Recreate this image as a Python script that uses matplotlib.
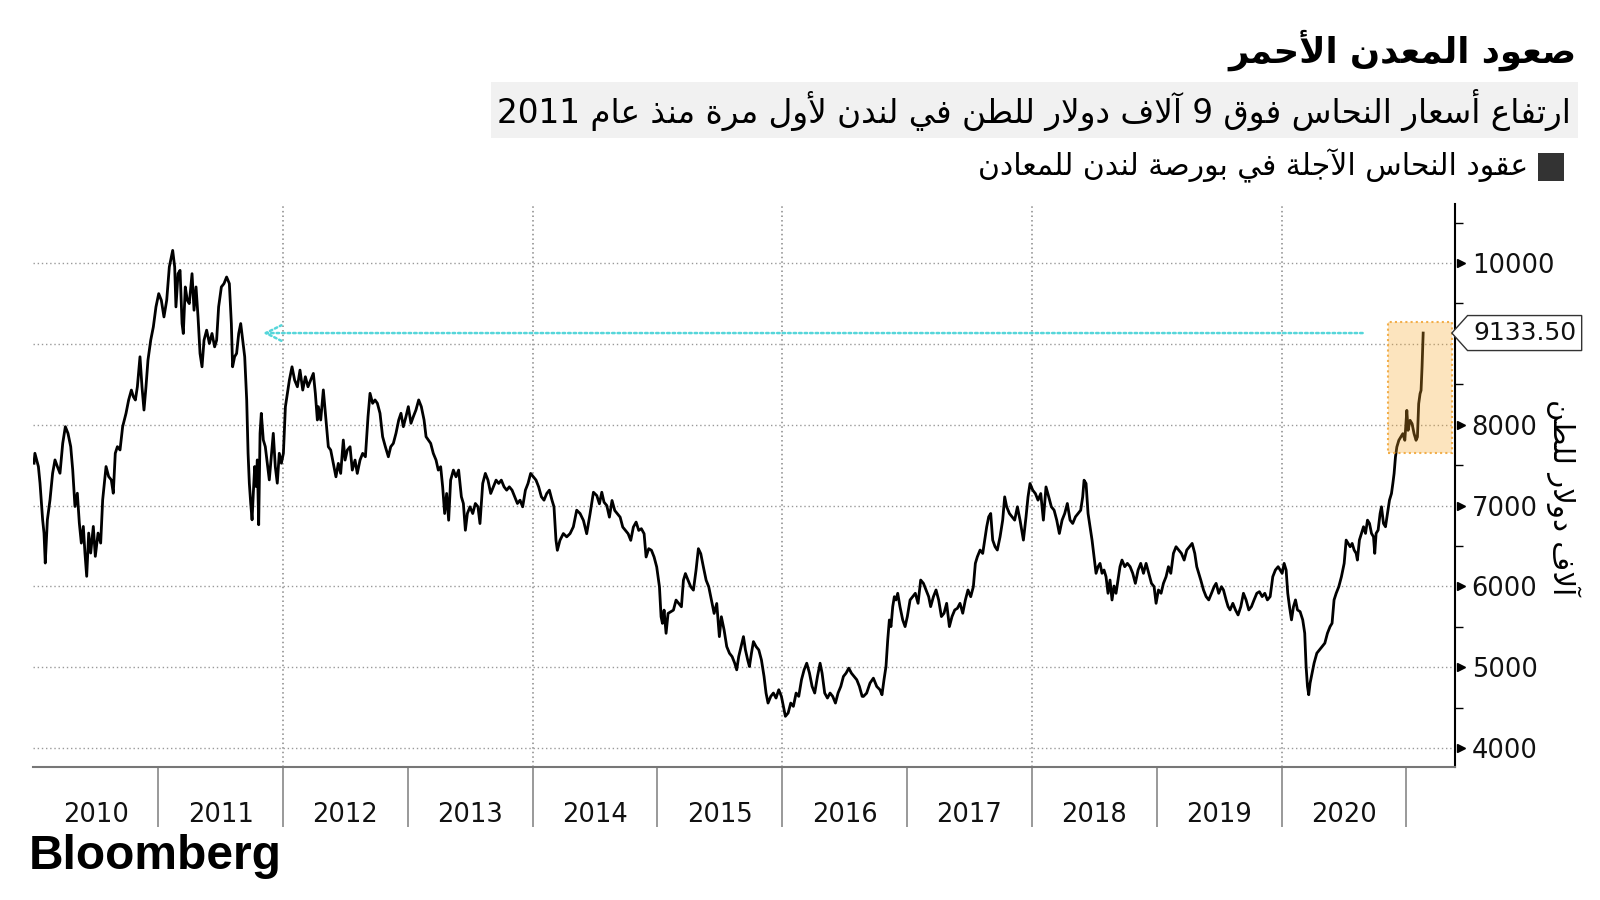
import re
import numpy as np
import matplotlib
matplotlib.use("Agg")
import matplotlib.pyplot as plt
from matplotlib.path import Path
from matplotlib.patches import Rectangle

# LME copper futures (x = years since 1 Jan 2010, y = USD/t)
years_since_2010 = [
    0.005, 0.012, 0.040, 0.053, 0.074, 0.085, 0.095, 0.112, 0.133, 0.154, 0.173, 0.192, 0.213, 0.235,
    0.256, 0.277, 0.299, 0.315, 0.333, 0.352, 0.368, 0.384, 0.400, 0.413, 0.427, 0.443, 0.459, 0.480,
    0.496, 0.518, 0.539, 0.555, 0.582, 0.603, 0.624, 0.640, 0.656, 0.673, 0.694, 0.715, 0.742, 0.763,
    0.785, 0.801, 0.817, 0.833, 0.854, 0.870, 0.886, 0.902, 0.918, 0.940, 0.961, 0.982, 1.004, 1.025,
    1.046, 1.068, 1.089, 1.105, 1.116, 1.132, 1.142, 1.159, 1.175, 1.191, 1.201, 1.217, 1.233, 1.249,
    1.271, 1.287, 1.303, 1.319, 1.335, 1.351, 1.367, 1.388, 1.410, 1.431, 1.452, 1.468, 1.484, 1.506,
    1.527, 1.548, 1.570, 1.586, 1.596, 1.612, 1.628, 1.645, 1.661, 1.677, 1.693, 1.709, 1.720, 1.730,
    1.741, 1.752, 1.762, 1.773, 1.784, 1.794, 1.805, 1.816, 1.826, 1.842, 1.858, 1.874, 1.890, 1.906,
    1.922, 1.938, 1.954, 1.970, 1.987, 2.003, 2.019, 2.035, 2.051, 2.072, 2.093, 2.115, 2.136, 2.158,
    2.179, 2.200, 2.222, 2.243, 2.259, 2.275,
    2.283, 2.302, 2.323, 2.344, 2.363, 2.382, 2.403, 2.424, 2.443, 2.462, 2.483, 2.497, 2.515, 2.537,
    2.555, 2.577, 2.595, 2.617, 2.638, 2.660, 2.681, 2.697, 2.718, 2.737, 2.756, 2.777, 2.798, 2.820,
    2.844, 2.863, 2.884, 2.905, 2.927, 2.945, 2.964, 2.985, 3.004, 3.025, 3.044, 3.065, 3.087, 3.108,
    3.130, 3.146, 3.164, 3.183, 3.204, 3.226, 3.244, 3.263, 3.279, 3.295, 3.311, 3.327, 3.343, 3.365,
    3.386, 3.407, 3.429, 3.445, 3.461, 3.477, 3.498, 3.520, 3.541, 3.562, 3.578, 3.600, 3.621, 3.642,
    3.664, 3.685, 3.707, 3.728, 3.749, 3.771, 3.792, 3.813, 3.835, 3.856, 3.878, 3.899, 3.920, 3.942,
    3.963, 3.984, 4.006, 4.027, 4.048, 4.070, 4.091, 4.113, 4.134, 4.155, 4.171, 4.187, 4.198, 4.219,
    4.246, 4.273, 4.300, 4.326, 4.353, 4.380,
    4.407, 4.433, 4.460, 4.487, 4.514, 4.535, 4.554, 4.572, 4.594, 4.615, 4.636, 4.658, 4.679, 4.701,
    4.722, 4.743, 4.765, 4.786, 4.807, 4.829, 4.850, 4.871, 4.893, 4.909, 4.930, 4.952, 4.973, 4.994,
    5.016, 5.029, 5.040, 5.053, 5.069, 5.085, 5.107, 5.128, 5.149, 5.171, 5.192, 5.208, 5.224, 5.245,
    5.267, 5.288, 5.309, 5.328, 5.347, 5.368, 5.390, 5.411, 5.432, 5.454, 5.475, 5.496, 5.512, 5.534,
    5.555, 5.577, 5.598, 5.619, 5.635, 5.651, 5.670, 5.689, 5.705, 5.723, 5.737, 5.753, 5.769, 5.790,
    5.812, 5.833, 5.854, 5.870, 5.886, 5.908, 5.929, 5.950, 5.972, 5.993, 6.009, 6.025, 6.047, 6.068,
    6.089, 6.111, 6.132, 6.154, 6.175, 6.196, 6.218, 6.239, 6.260, 6.282, 6.303, 6.319, 6.340, 6.362,
    6.383, 6.404, 6.426, 6.447, 6.469, 6.490, 6.511, 6.533, 6.554, 6.576, 6.597, 6.618, 6.640,
    6.650, 6.676, 6.703, 6.730, 6.757, 6.783, 6.799, 6.815, 6.831, 6.845, 6.858, 6.871, 6.885, 6.898,
    6.911, 6.925, 6.943, 6.965, 6.984, 7.002, 7.024, 7.045, 7.066, 7.088, 7.109, 7.131, 7.152, 7.173,
    7.189, 7.211, 7.232, 7.253, 7.275, 7.296, 7.317, 7.339, 7.360, 7.382, 7.403, 7.424, 7.446, 7.467,
    7.488, 7.510, 7.531, 7.547, 7.563, 7.585, 7.606, 7.622, 7.638, 7.654, 7.670, 7.686, 7.705, 7.723,
    7.745, 7.766, 7.782, 7.798, 7.820, 7.841, 7.862, 7.884, 7.905, 7.932, 7.953, 7.969, 7.985, 8.007,
    8.028, 8.049, 8.071, 8.092, 8.113, 8.135, 8.156, 8.178, 8.199, 8.220, 8.242, 8.263, 8.284, 8.306,
    8.327, 8.349, 8.370, 8.391, 8.407, 8.418, 8.434, 8.450, 8.466, 8.482, 8.498, 8.514, 8.530, 8.546,
    8.562, 8.578, 8.594, 8.610, 8.626, 8.642, 8.658, 8.674, 8.690, 8.706, 8.722, 8.744, 8.765, 8.787,
    8.808, 8.829, 8.851, 8.872,
    8.894, 8.915, 8.936, 8.958, 8.979, 8.995, 9.014, 9.035, 9.054, 9.075, 9.094, 9.113, 9.134, 9.155,
    9.177, 9.198, 9.220, 9.241, 9.262, 9.284, 9.305, 9.321, 9.337, 9.353, 9.375, 9.396, 9.417, 9.439,
    9.460, 9.476, 9.497, 9.519, 9.535, 9.556, 9.572, 9.588, 9.610, 9.631, 9.652, 9.674, 9.695, 9.716,
    9.738, 9.759, 9.780, 9.802, 9.823, 9.845, 9.866, 9.887, 9.909, 9.930, 9.951, 9.973, 9.989, 10.005,
    10.021, 10.037, 10.050, 10.064, 10.080, 10.096, 10.112, 10.128, 10.149, 10.170, 10.186, 10.197,
    10.208, 10.218, 10.229, 10.245, 10.261, 10.283, 10.304, 10.325, 10.347, 10.368, 10.389, 10.405,
    10.421, 10.438, 10.459, 10.480, 10.502, 10.518, 10.534, 10.550, 10.566, 10.582, 10.598, 10.608,
    10.624, 10.641, 10.657, 10.673, 10.689, 10.705, 10.721, 10.737, 10.747, 10.758, 10.774, 10.790,
    10.801, 10.817, 10.833, 10.849, 10.865, 10.881, 10.892, 10.902, 10.913, 10.924, 10.940, 10.956,
    10.972, 10.988, 11.004, 11.014, 11.030, 11.046, 11.062, 11.078, 11.089, 11.099, 11.110, 11.118,
    11.126, 11.135,
]
price_usd = [
    7523, 7646, 7482, 7276, 6823, 6659, 6288, 6823, 7070, 7399, 7564, 7482, 7399, 7770,
    7975, 7893, 7728, 7440, 6988, 7152, 6782, 6535, 6741, 6412, 6124, 6659, 6412, 6741,
    6371, 6659, 6535, 7070, 7482, 7358, 7317, 7152, 7646, 7728, 7687, 7975, 8140, 8305,
    8428, 8346, 8305, 8469, 8840, 8469, 8181, 8469, 8799, 9045, 9210, 9457, 9621, 9539,
    9333, 9539, 9951, 10074, 10156, 9951, 9457, 9868, 9909, 9251, 9128, 9704, 9539, 9498,
    9868, 9416, 9704, 9333, 8881, 8716, 9045, 9169, 9004, 9128, 8963, 9045, 9457, 9704,
    9745, 9827, 9745, 9251, 8716, 8840, 8881, 9128, 9251, 9045, 8840, 8305, 7646, 7276,
    7029, 6823, 7152, 7482, 7235, 7564, 6762, 7893, 8140, 7811, 7728, 7523, 7317, 7605,
    7893, 7482, 7276, 7646, 7523, 7646, 8222, 8387, 8552, 8716, 8552, 8469, 8675, 8428,
    8593, 8469, 8552, 8634, 8387, 8058,
    8223, 8058, 8430, 8058, 7727, 7686, 7521, 7355, 7521, 7397, 7810, 7562, 7686, 7727,
    7438, 7562, 7397, 7562, 7645, 7603, 8099, 8388, 8264, 8306, 8264, 8141, 7851, 7727,
    7603, 7727, 7769, 7893, 8058, 8141, 7975, 8099, 8223, 8017, 8099, 8182, 8306, 8223,
    8058, 7851, 7810, 7769, 7645, 7562, 7438, 7480, 7231, 6901, 7149, 6818, 7314, 7438,
    7355, 7438, 7108, 7025, 6694, 6901, 6984, 6901, 7025, 6984, 6777, 7273, 7397, 7314,
    7149, 7231, 7314, 7273, 7314, 7231, 7190, 7231, 7190, 7108, 7025, 7066, 6984, 7190,
    7273, 7397, 7355, 7314, 7231, 7108, 7066, 7149, 7190, 7066, 6984, 6570, 6446, 6570,
    6653, 6612, 6653, 6736, 6942, 6901,
    6815, 6651, 6897, 7164, 7123, 7021, 7164, 7041, 7000, 6856, 7062, 6938, 6897, 6856,
    6733, 6692, 6651, 6569, 6733, 6795, 6692, 6713, 6651, 6363, 6466, 6446, 6363, 6240,
    5994, 5624, 5542, 5706, 5419, 5665, 5686, 5706, 5830, 5788, 5747, 6076, 6158, 6076,
    5994, 5953, 6199, 6466, 6404, 6240, 6076, 5994, 5830, 5665, 5788, 5378, 5624, 5460,
    5255, 5172, 5131, 5049, 4967, 5131, 5255, 5378, 5213, 5090, 5008, 5172, 5316, 5255,
    5213, 5090, 4885, 4680, 4556, 4639, 4680, 4618, 4721, 4639, 4515, 4392, 4433, 4556,
    4515, 4680, 4639, 4844, 4967, 5049, 4926, 4762, 4680, 4885, 5049, 4926, 4680, 4618,
    4680, 4639, 4556, 4680, 4762, 4885, 4926, 4988, 4926, 4885, 4844, 4762, 4639,
    4638, 4679, 4803, 4864, 4761, 4720, 4659, 4844, 5008, 5338, 5584, 5502, 5749, 5872,
    5831, 5914, 5749, 5584, 5502, 5626, 5831, 5872, 5914, 5790, 6078, 6037, 5955, 5872,
    5749, 5872, 5955, 5831, 5626, 5667, 5790, 5502, 5626, 5708, 5728, 5790, 5667, 5831,
    5955, 5872, 5996, 6284, 6366, 6449, 6407, 6572, 6737, 6860, 6901, 6572, 6490, 6449,
    6613, 6819, 7107, 6984, 6901, 6860, 6819, 6984, 6819, 6572, 6860, 7107, 7272, 7189,
    7148, 7066, 7148, 6819, 7230, 7107, 6984, 6942, 6819, 6654, 6819, 6901, 7025, 6819,
    6778, 6860, 6901, 6942, 7107, 7313, 7272, 6901, 6737, 6572, 6366, 6161, 6243, 6284,
    6161, 6202, 6119, 5914, 6078, 5831, 6004, 5914, 6078, 6243, 6325, 6243, 6284, 6243,
    6161, 6037, 6202, 6284,
    6161, 6284, 6161, 6037, 5996, 5790, 5955, 5914, 6037, 6119, 6243, 6161, 6408, 6490,
    6449, 6408, 6325, 6449, 6490, 6531, 6408, 6243, 6161, 6078, 5955, 5873, 5832, 5914,
    5996, 6037, 5914, 5996, 5955, 5832, 5749, 5708, 5790, 5708, 5646, 5749, 5914, 5832,
    5708, 5749, 5832, 5914, 5934, 5873, 5914, 5832, 5873, 6119, 6202, 6243, 6202, 6161,
    6284, 6202, 5914, 5749, 5585, 5749, 5832, 5708, 5687, 5585, 5420, 5008,
    4762, 4659, 4803, 4926, 5050, 5173, 5214, 5255, 5297, 5420, 5502, 5543,
    5832, 5914, 5996, 6119, 6284, 6572, 6531, 6490, 6531, 6449, 6408, 6325,
    6572, 6655, 6737, 6655, 6819, 6778, 6655, 6613, 6408, 6655, 6696, 6901,
    6984, 6778, 6737, 6901, 7066, 7148, 7272, 7395, 7601, 7724, 7807, 7848,
    7889, 7807, 8177, 7930, 8054, 8012, 7889, 7807, 7848, 8259, 8383, 8424,
    8712, 9133.5,
]

year_labels = ["2010", "2011", "2012", "2013", "2014", "2015", "2016", "2017", "2018", "2019", "2020"]
y_ticks = [4000, 5000, 6000, 7000, 8000, 10000]   # 9000 sits under the last-value tag
last_price = 9133.5
previous_level_year = 2011.84   # where the 2011 price was last at this level
highlight_years = (2020.854, 2021.367)
highlight_prices = (7647, 9269)

title = "صعود المعدن الأحمر"
subtitle = "ارتفاع أسعار النحاس فوق 9 آلاف دولار للطن في لندن لأول مرة منذ عام 2011"
legend_label = "عقود النحاس الآجلة في بورصة لندن للمعادن"
y_label = "آلاف دولار للطن"


# --- tiny Arabic shaper (matplotlib has no complex text layout) ---
DUAL = {0x626: 0xFE89, 0x628: 0xFE8F, 0x62A: 0xFE95, 0x62B: 0xFE99, 0x62C: 0xFE9D, 0x62D: 0xFEA1,
        0x62E: 0xFEA5, 0x633: 0xFEB1, 0x634: 0xFEB5, 0x635: 0xFEB9, 0x636: 0xFEBD, 0x637: 0xFEC1,
        0x638: 0xFEC5, 0x639: 0xFEC9, 0x63A: 0xFECD, 0x641: 0xFED1, 0x642: 0xFED5, 0x643: 0xFED9,
        0x644: 0xFEDD, 0x645: 0xFEE1, 0x646: 0xFEE5, 0x647: 0xFEE9, 0x64A: 0xFEF1}
RIGHT = {0x622: 0xFE81, 0x623: 0xFE83, 0x624: 0xFE85, 0x625: 0xFE87, 0x627: 0xFE8D, 0x629: 0xFE93,
         0x62F: 0xFEA9, 0x630: 0xFEAB, 0x631: 0xFEAD, 0x632: 0xFEAF, 0x648: 0xFEED, 0x649: 0xFEEF}
LAM_ALEF = {0x622: 0xFEF5, 0x623: 0xFEF7, 0x625: 0xFEF9, 0x627: 0xFEFB}


def shape_arabic(text):
    items = []
    i = 0
    while i < len(text):
        c = ord(text[i])
        if c == 0x644 and i + 1 < len(text) and ord(text[i + 1]) in LAM_ALEF:
            items.append(("la", ord(text[i + 1])))
            i += 2
        else:
            items.append(("c", c))
            i += 1

    def links_next(it):
        return it[0] == "c" and it[1] in DUAL

    def links_prev(it):
        return it[0] == "la" or it[1] in DUAL or it[1] in RIGHT

    out = []
    for k, it in enumerate(items):
        jp = k > 0 and links_next(items[k - 1]) and links_prev(it)
        jn = k + 1 < len(items) and links_next(it) and links_prev(items[k + 1])
        kind, c = it
        if kind == "la":
            out.append(chr(LAM_ALEF[c] + (1 if jp else 0)))
        elif c in DUAL:
            out.append(chr(DUAL[c] + (3 if jp and jn else 2 if jn else 1 if jp else 0)))
        elif c in RIGHT:
            out.append(chr(RIGHT[c] + (1 if jp else 0)))
        elif c == 0x621:
            out.append("\ufe80")
        else:
            out.append(chr(c))
    return "".join(out)


def ar(text):
    visual = shape_arabic(text)[::-1]
    return re.sub(r"[0-9.]+", lambda m: m.group(0)[::-1], visual)


def tag_box(x0, y0, width, height, mutation_size):
    pad = 0.22 * mutation_size
    x0, y0 = x0 - pad, y0 - pad
    width, height = width + 2 * pad, height + 2 * pad
    tip = 0.45 * height
    verts = [(x0 - tip, y0 + height / 2), (x0, y0 + height), (x0 + width, y0 + height),
             (x0 + width, y0), (x0, y0), (x0 - tip, y0 + height / 2)]
    return Path(verts, closed=True)


plt.rcParams["font.family"] = ["DejaVu Sans"]

W, H = 1600, 900
fig = plt.figure(figsize=(16, 9), dpi=100)


def fxy(x, y):
    return x / W, 1 - y / H


ax = fig.add_axes([33.4 / W, 133 / H, (1455 - 33.4) / W, (767 - 204) / H])

t = 2010 + np.array(years_since_2010)
ax.plot(t, price_usd, color="black", lw=2.0, zorder=2)

ax.set_xlim(2010.0, 2021.39)
ax.set_ylim(3765, 10730)

for s in ["left", "top"]:
    ax.spines[s].set_visible(False)
ax.spines["right"].set_color("black")
ax.spines["right"].set_linewidth(1.5)
ax.spines["bottom"].set_color("#777777")
ax.spines["bottom"].set_linewidth(1.5)

# x axis: year boundaries as long ticks, labels centred in each year
ax.set_xticks(np.arange(2011, 2022))
ax.set_xticklabels([])
ax.set_xticks(np.arange(2010.5, 2021), minor=True)
ax.set_xticklabels(year_labels, minor=True)
ax.tick_params(axis="x", which="major", length=43, width=1.2, color="#888888", direction="out")
ax.tick_params(axis="x", which="minor", length=0, pad=25, labelsize=18.5, labelcolor="#111111")
for yr in [2012, 2014, 2016, 2018, 2020]:
    ax.axvline(yr, color="#888888", lw=1.1, ls=(0, (1, 2)), zorder=1)

# y axis on the right
ax.yaxis.tick_right()
ax.set_yticks(y_ticks)
ax.set_yticks(np.arange(4500, 10600, 1000), minor=True)
ax.tick_params(axis="y", which="major", length=0, pad=12, labelsize=18.5, labelcolor="#111111")
ax.tick_params(axis="y", which="minor", length=6, width=1, color="black", direction="out")
ax.grid(axis="y", which="major", color="#999999", lw=1, ls=(0, (1, 2)))
ax.axhline(9000, color="#999999", lw=1, ls=(0, (1, 2)), zorder=1)
ax.plot([1.004] * len(y_ticks), y_ticks, transform=ax.get_yaxis_transform(), ls="none",
        marker=">", ms=6, color="black", clip_on=False)

# highlight of the latest surge
ax.add_patch(Rectangle((highlight_years[0], highlight_prices[0]),
                       highlight_years[1] - highlight_years[0],
                       highlight_prices[1] - highlight_prices[0],
                       facecolor=(0.97, 0.66, 0.16, 0.30), edgecolor="#f2ae4a",
                       lw=1.5, ls=(0, (1, 1.5)), zorder=3))

# dotted arrow back to 2011 level
ax.annotate("", xy=(previous_level_year, last_price), xytext=(2020.65, last_price),
            arrowprops=dict(arrowstyle="->", color="#55d6da", lw=1.8, ls=(0, (1, 1.2)),
                            mutation_scale=28, shrinkA=0, shrinkB=0), zorder=4)

# last value tag
ax.annotate("9133.50", xy=(1, last_price), xycoords=ax.get_yaxis_transform(),
            xytext=(13, 0), textcoords="offset points", ha="left", va="center",
            fontsize=18, color="#111111", annotation_clip=False, zorder=10,
            bbox=dict(boxstyle=tag_box, fc="white", ec="#333333", lw=1))

# titles and legend
fig.text(*fxy(1577, 50), ar(title), ha="right", va="center", fontsize=25.5, fontweight="bold")
fig.text(*fxy(1571, 110), ar(subtitle), ha="right", va="center", fontsize=23.5,
         bbox=dict(boxstyle="square,pad=0.2", fc="#f1f1f1", ec="none"))
fig.patches.append(Rectangle(fxy(1538, 181), 26 / W, 28 / H, transform=fig.transFigure,
                             facecolor="#333333", edgecolor="none"))
fig.text(*fxy(1528, 166), ar(legend_label), ha="right", va="center", fontsize=21.5)

fig.text(*fxy(1563, 497), ar(y_label), rotation=-90, ha="center", va="center", fontsize=21)

fig.text(*fxy(29, 869), "Bloomberg", ha="left", va="baseline", fontsize=34.5,
         fontweight="bold", family="Liberation Sans")

fig.savefig("out.png", dpi=100)
